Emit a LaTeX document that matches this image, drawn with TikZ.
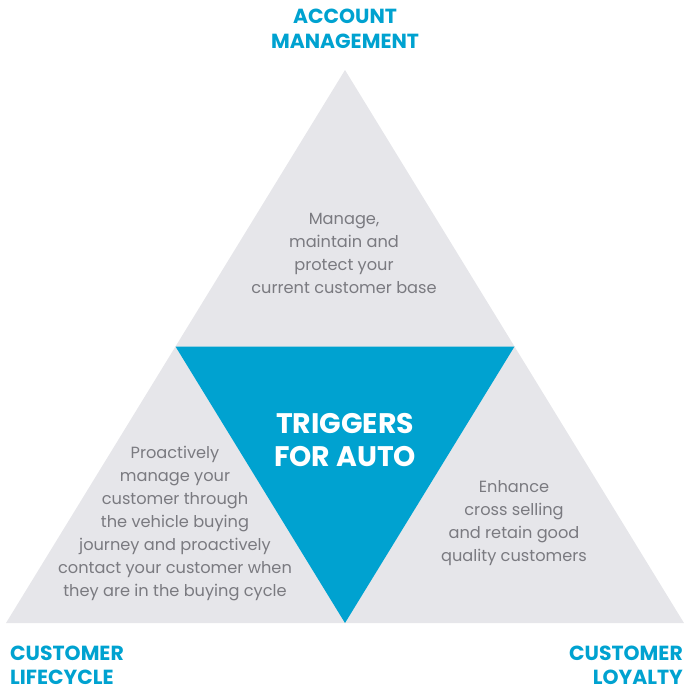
\documentclass[tikz,border=0pt]{standalone}
\usepackage{fontspec}
\usetikzlibrary{calc}
\setmainfont{Poppins}
\definecolor{tgray}{HTML}{E6E6EA}
\definecolor{tblue}{HTML}{00A2D0}
\definecolor{ttext}{HTML}{7A7A80}
\begin{document}
\begin{tikzpicture}[x=1pt,y=-1pt,
  head/.style={text=tblue,font=\fontsize{20.4}{24.5}\selectfont\bfseries,inner sep=0pt},
  body/.style={text=ttext,font=\fontsize{16.2}{23}\selectfont,align=center,inner sep=0pt},
  core/.style={text=white,font=\fontsize{28.3}{33}\selectfont\bfseries,align=center,inner sep=0pt}]
\useasboundingbox (0,0) rectangle (684,690);
\coordinate (A) at (345,70);
\coordinate (B) at (6,623);
\coordinate (C) at (684,623);
\coordinate (AB) at ($(A)!0.5!(B)$);
\coordinate (AC) at ($(A)!0.5!(C)$);
\coordinate (BC) at ($(B)!0.5!(C)$);
\fill[tgray] (A) -- (B) -- (C) -- cycle;
\fill[tblue] (AB) -- (AC) -- (BC) -- cycle;
\node[head,align=center] (acc) at (345,29) {ACCOUNT\\MANAGEMENT};
\node[head,align=left,anchor=south west,text depth=0pt] (life) at (10,685) {CUSTOMER\\LIFECYCLE};
\node[head,align=right,anchor=south east,text depth=0pt] (loy) at (683,685) {CUSTOMER\\LOYALTY};
\node[body] (t1) at (344,253) {Manage,\\maintain and\\protect your\\current customer base};
\node[body] (t2) at (175,524) {Proactively\\manage your\\customer through\\the vehicle buying\\journey and proactively\\contact your customer when\\they are in the buying cycle};
\node[body] (t3) at (514,523.5) {Enhance\\cross selling\\and retain good\\quality customers};
\node[core] (core) at (345,440) {TRIGGERS\\FOR AUTO};
\end{tikzpicture}
\end{document}
